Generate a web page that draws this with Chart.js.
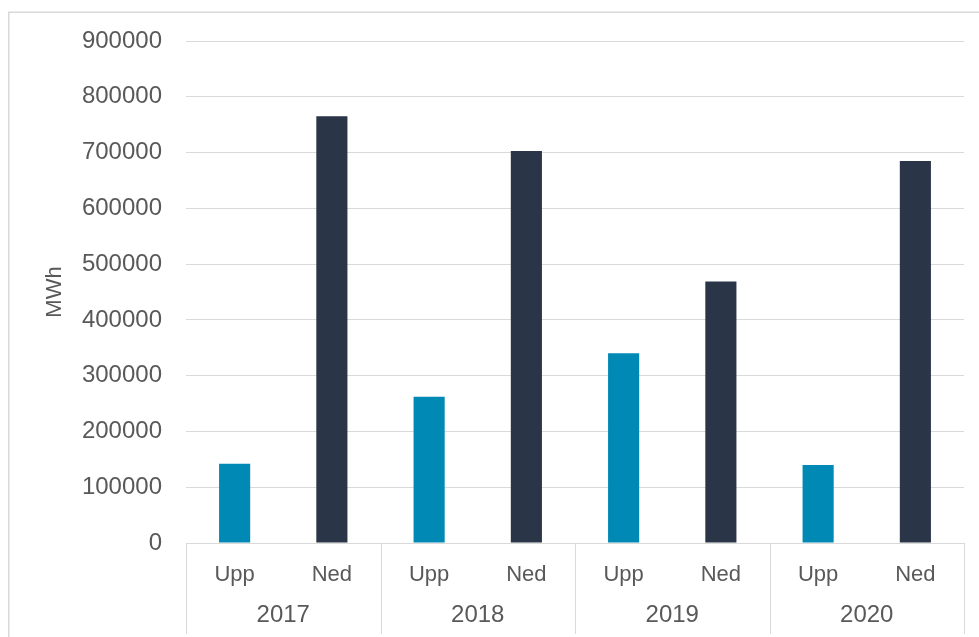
<!DOCTYPE html>
<html>
<head>
<meta charset="utf-8">
<script src="https://cdn.jsdelivr.net/npm/chart.js@4/dist/chart.umd.min.js"></script>
<style>
  html, body { margin: 0; padding: 0; background: #ffffff; }
  #wrap { position: relative; width: 979px; height: 637px; }
</style>
</head>
<body>
<div id="wrap"><canvas id="c" width="979" height="637"></canvas></div>
<script>
// Energy volumes per year, split into up- and down-regulation
const years = ['2017', '2018', '2019', '2020'];
const directions = ['Upp', 'Ned'];
const uppValues = [142000, 262000, 340000, 140000];
const nedValues = [765000, 703000, 469000, 685000];
const yMax = 900000;
const yStep = 100000;

const uppColor = '#0089B5';
const nedColor = '#2A3547';
const lineGray = '#d9d9d9';
const textGray = '#595959';
const fontFamily = '"Liberation Sans", Arial, sans-serif';

// Flatten into one category per (year, direction)
const labels = [];
const values = [];
const colors = [];
years.forEach((y, i) => {
  labels.push(directions[0]); values.push(uppValues[i]); colors.push(uppColor);
  labels.push(directions[1]); values.push(nedValues[i]); colors.push(nedColor);
});

// Outer frame, group separators and year labels under the direction labels
const groupAxis = {
  id: 'groupAxis',
  beforeDraw(chart) {
    const ctx = chart.ctx;
    ctx.save();
    ctx.fillStyle = '#ffffff';
    ctx.fillRect(0, 0, chart.width, chart.height);
    ctx.strokeStyle = lineGray;
    ctx.lineWidth = 1.5;
    ctx.strokeRect(8.75, 12.25, chart.width + 40, chart.height + 40);
    ctx.restore();
  },
  afterDraw(chart) {
    const ctx = chart.ctx;
    const xs = chart.scales.x;
    const area = chart.chartArea;
    const n = directions.length;
    ctx.save();
    ctx.strokeStyle = lineGray;
    ctx.lineWidth = 1;
    for (let g = 0; g <= years.length; g++) {
      let px;
      if (g === 0) px = area.left;
      else if (g === years.length) px = area.right;
      else px = (xs.getPixelForValue(g * n - 1) + xs.getPixelForValue(g * n)) / 2;
      px = Math.round(px) + 0.5;
      ctx.beginPath();
      ctx.moveTo(px, area.bottom);
      ctx.lineTo(px, 634);
      ctx.stroke();
    }
    ctx.fillStyle = textGray;
    ctx.font = '24px ' + fontFamily;
    ctx.textAlign = 'center';
    ctx.textBaseline = 'middle';
    years.forEach((y, g) => {
      const cx = (xs.getPixelForValue(g * n) + xs.getPixelForValue(g * n + n - 1)) / 2;
      ctx.fillText(y, cx, 615);
    });
    ctx.restore();
  }
};

new Chart(document.getElementById('c'), {
  type: 'bar',
  data: {
    labels: labels,
    datasets: [{
      label: 'MWh',
      data: values,
      backgroundColor: colors,
      borderWidth: 0,
      barPercentage: 0.32,
      categoryPercentage: 1
    }]
  },
  options: {
    responsive: false,
    animation: false,
    devicePixelRatio: 1,
    layout: { padding: { top: 41, right: 15, bottom: 0, left: 0 } },
    plugins: {
      legend: { display: false },
      tooltip: { enabled: false }
    },
    scales: {
      x: {
        grid: { display: false, drawTicks: false },
        border: { display: true, color: lineGray, width: 1 },
        ticks: {
          color: textGray,
          font: { family: fontFamily, size: 22 },
          padding: 19,
          maxRotation: 0,
          autoSkip: false
        },
        afterFit(scale) { scale.height = 94; }
      },
      y: {
        min: 0,
        max: yMax,
        grid: { color: lineGray, lineWidth: 1, drawTicks: false },
        border: { display: false },
        ticks: {
          stepSize: yStep,
          color: textGray,
          font: { family: fontFamily, size: 24 },
          padding: 24,
          callback: (v) => String(v)
        },
        title: {
          display: true,
          text: 'MWh',
          color: textGray,
          font: { family: fontFamily, size: 22 },
          padding: { top: 42, bottom: 0 }
        },
        afterFit(scale) { scale.width = 186; }
      }
    }
  },
  plugins: [groupAxis]
});
</script>
</body>
</html>
